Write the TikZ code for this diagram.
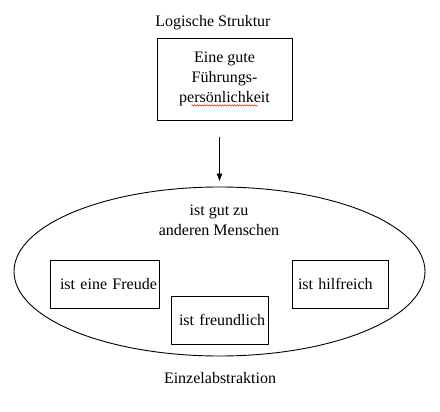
\documentclass[tikz,border=0pt]{standalone}
\usepackage{fontspec}
\setmainfont{Liberation Serif}
\usetikzlibrary{arrows.meta,positioning,shapes.geometric,decorations.pathmorphing}
\definecolor{ink}{HTML}{000000}
\definecolor{squiggle}{HTML}{E02020}
\tikzset{
  every node/.style={font=\fontsize{16}{20}\selectfont, text=ink},
  box/.style={draw=ink, line width=0.9pt, fill=white, align=center, inner sep=0pt},
  smallbox/.style={box, minimum height=48pt, align=left},
  ring/.style={draw=ink, line width=0.9pt, ellipse, inner sep=0pt},
  caption/.style={align=center, inner sep=0pt},
  arrow/.style={-{Latex[length=8pt,width=6pt]}, line width=0.9pt, draw=ink},
}
\begin{document}
\begin{tikzpicture}[x=1pt,y=-1pt]
\useasboundingbox (0,0) rectangle (440,412);
\node[box, minimum width=135pt, minimum height=82pt, text depth=4pt] (lead) at (224.5,79) {Eine gute\\Führungs-\\persönlichkeit};
\node[caption] (struct) at (213,23) {Logische Struktur};
\draw[squiggle, line width=0.5pt, decoration={snake,amplitude=0.7pt,segment length=2.5pt}, decorate] ([xshift=-33pt,yshift=15pt]lead.south) coordinate (sq) -- ++(66,0);
\node[ring, minimum width=411pt, minimum height=169pt] (ell) at (219.5,271.5) {};
\draw[arrow, shorten <=17pt, shorten >=5pt] (lead.south -| ell.north) -- (ell.north);
\node[caption] (good) at (219,220) {ist gut zu\\anderen Menschen};
\node[smallbox, minimum width=109pt, text width=109pt] (joy) at (104.5,284) {\hspace*{10pt}ist eine Freude};
\node[smallbox, minimum width=97pt, text width=97pt] (kind) at (219.5,320) {\hspace*{8pt}ist freundlich};
\node[smallbox, minimum width=96pt, text width=96pt] (help) at (340,284) {\hspace*{6pt}ist hilfreich};
\node[caption] (single) at (220,378) {Einzelabstraktion};
\end{tikzpicture}
\end{document}
